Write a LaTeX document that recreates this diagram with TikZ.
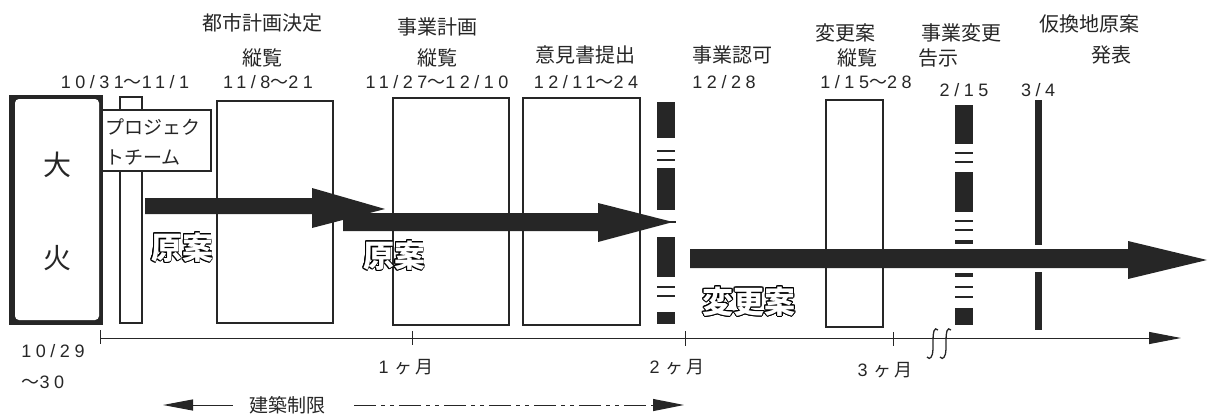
\documentclass[tikz,border=0pt]{standalone}
\usepackage{fontspec}
\usepackage[copies]{contour}
\newfontfamily\jpfont{Noto Sans CJK JP}
\newfontfamily\numfont[LetterSpace=25]{Liberation Sans}
\contourlength{0.9pt}
\contournumber{16}
\usetikzlibrary{arrows.meta}
\definecolor{ink}{gray}{0.15}
\newcommand{\tld}{{\jpfont ～}}
\begin{document}
\begin{tikzpicture}[x=1pt,y=-1pt,
  box/.style={draw=ink, line width=1.2pt, fill=white},
  lab/.style={font=\jpfont\fontsize{20}{20}\selectfont, inner sep=0pt, text=ink},
  dt/.style={font=\numfont\fontsize{18}{18}\selectfont, inner sep=0pt, text=ink},
  big/.style={font=\jpfont\bfseries\fontsize{31}{31}\selectfont, inner sep=0pt, text=white},
  kanji/.style={font=\jpfont\fontsize{28}{28}\selectfont, inner sep=0pt, text=ink}
]
\useasboundingbox (0,0) rectangle (1209,415);

% --- big fire box
\fill[ink] (9,95) rectangle (103,325);
\fill[white, rounded corners=4pt] (15,99) rectangle (99,320);
\node[kanji] (dai) at (57,165) {大};
\node[kanji] (hi) at (57,258) {火};

% --- project team post and sign
\draw[box] (120,97) rectangle (142,323);
\draw[box] (102,110) rectangle (211,171);
\node[lab, anchor=west, font=\jpfont\fontsize{19}{19}\selectfont] (pj1) at (105,127) {プロジェク};
\node[lab, anchor=west, font=\jpfont\fontsize{19}{19}\selectfont] (pj2) at (105,158) {トチーム};

% --- period boxes
\draw[box] (217,101) rectangle (333,323);
\draw[box] (393,98) rectangle (509,325);
\draw[box] (523,98) rectangle (640,325);
\draw[box] (826,100) rectangle (883,327);

% --- dark bar 1 (12/28)
\fill[ink] (657,102) rectangle (675,138);
\fill[ink] (657,168) rectangle (675,210);
\fill[ink] (657,237) rectangle (675,277);
\fill[ink] (657,312) rectangle (675,324);
\foreach \yy in {151,160,287,296} \fill[ink] (657,\yy-1) rectangle (675,\yy+1);
\fill[ink] (667,221) rectangle (676,223);

% --- dark bar 2 (2/15)
\fill[ink] (955,105) rectangle (973,144);
\fill[ink] (955,172) rectangle (973,212);
\fill[ink] (955,308) rectangle (973,325);
\foreach \yy in {153,162,221,230,287,297} \fill[ink] (955,\yy-1) rectangle (973,\yy+1);
\fill[ink] (955,240) rectangle (973,244);
\fill[ink] (955,273) rectangle (973,277);

% --- thin bar 3 (3/4)
\fill[ink] (1035,100) rectangle (1042,245);
\fill[ink] (1035,272) rectangle (1042,330);

% --- big arrows
\fill[ink] (145,198) -- (312,198) -- (312,188) -- (385,209) -- (312,228) -- (312,214) -- (145,214) -- cycle;
\fill[ink] (343,213) -- (598,213) -- (598,203) -- (673,222) -- (598,242) -- (598,231) -- (343,231) -- cycle;
\fill[ink] (690,249) -- (1128,249) -- (1128,241) -- (1207,260) -- (1128,279) -- (1128,268) -- (690,268) -- cycle;

% --- outlined labels
\node[big] (g1) at (182,248) {\contour{black}{原案}};
\node[big] (g2) at (394,256) {\contour{black}{原案}};
\node[big] (g3) at (749,302) {\contour{black}{変更案}};

% --- top labels
\node[lab] (t1a) at (262,23) {都市計画決定};
\node[lab] (t1b) at (262,58) {縦覧};
\node[dt] (d0) at (125,82) {10/31\tld 11/1};
\node[dt] (d1) at (268,82) {11/8\tld 21};
\node[lab] (t2a) at (437,27) {事業計画};
\node[lab] (t2b) at (437,58) {縦覧};
\node[dt] (d2) at (437,82) {11/27\tld 12/10};
\node[lab] (t3) at (585,55) {意見書提出};
\node[dt] (d3) at (586,82) {12/11\tld 24};
\node[lab] (t4) at (732,55) {事業認可};
\node[dt] (d4) at (724,82) {12/28};
\node[lab] (t5a) at (845,33) {変更案};
\node[lab] (t5b) at (857,58) {縦覧};
\node[dt] (d5) at (866,82) {1/15\tld 28};
\node[lab] (t6a) at (961,33) {事業変更};
\node[lab] (t6b) at (938,58) {告示};
\node[dt] (d6) at (964,90) {2/15};
\node[lab] (t7a) at (1089,24) {仮換地原案};
\node[lab] (t7b) at (1111,55) {発表};
\node[dt] (d7) at (1038,90) {3/4};

% --- time axis
\coordinate (ax0) at (100,338);
\coordinate (ax1) at (1181,338);
\draw[ink, line width=1pt, -{Triangle[length=32pt,width=12pt]}] (ax0) -- (ax1);
\coordinate (k0a) at (100,330); \coordinate (k0b) at (100,344);
\coordinate (k1a) at (412,331); \coordinate (k1b) at (412,345);
\coordinate (k2a) at (685,331); \coordinate (k2b) at (685,346);
\coordinate (k3a) at (893,332); \coordinate (k3b) at (893,346);
\draw[ink, line width=1pt] (k0a) -- (k0b);
\draw[ink, line width=1pt] (k1a) -- (k1b);
\draw[ink, line width=1pt] (k2a) -- (k2b);
\draw[ink, line width=1pt] (k3a) -- (k3b);
% break mark
\foreach \xx in {932,945}
  \draw[ink, line width=1.3pt] (\xx+6,330) .. controls (\xx+2,326) and (\xx+1,333) .. (\xx+1,340)
        -- (\xx+1,349) .. controls (\xx+1,356) and (\xx-2,361) .. (\xx-5,357);

\node[dt] (a0) at (53,351) {10/29};
\node[dt] (a1) at (43,382) {\tld 30};
\node[lab, font=\jpfont\fontsize{18}{18}\selectfont] (m1) at (406,367) {{\numfont 1}\hspace{6pt}ヶ\hspace{3pt}月};
\node[lab, font=\jpfont\fontsize{18}{18}\selectfont] (m2) at (677,367) {{\numfont 2}\hspace{6pt}ヶ\hspace{3pt}月};
\node[lab, font=\jpfont\fontsize{18}{18}\selectfont] (m3) at (885,370) {{\numfont 3}\hspace{6pt}ヶ\hspace{3pt}月};

% --- building restriction
\node[lab, font=\jpfont\fontsize{19}{19}\selectfont] (kc) at (287,405) {建築制限};
\coordinate (kl) at (163,405);
\coordinate (kr) at (684,405);
\draw[ink, line width=1pt, -{Triangle[length=30pt,width=11pt]}] (kc.west) ++(-16,0) -- (kl);
\draw[ink, line width=1pt, dash pattern=on 22pt off 5pt on 4pt off 5pt on 4pt off 5pt, -{Triangle[length=31pt,width=12pt]}] (kc.east) ++(29,0) -- (kr);
\end{tikzpicture}
\end{document}
